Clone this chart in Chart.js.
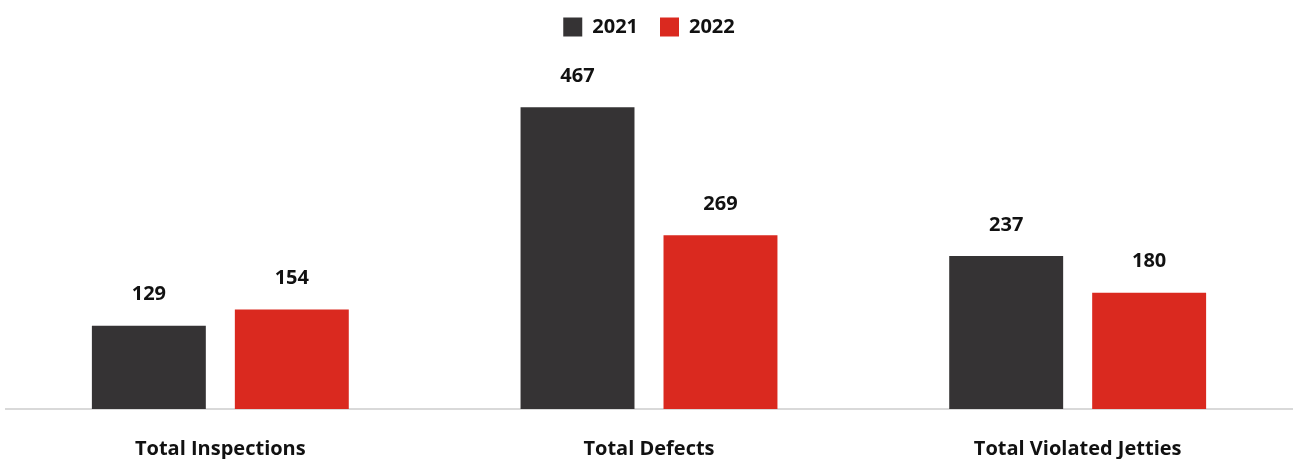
<!DOCTYPE html>
<html lang="en">
<head>
  <meta charset="UTF-8">
  <title>Inspections and Defects 2021 vs 2022</title>
  <script src="https://cdn.jsdelivr.net/npm/chart.js"></script>
  <style>
    html, body {
      margin: 0;
      padding: 0;
      background: #fff;
    }
    #wrap {
      width: 1297px;
      height: 461px;
    }
  </style>
</head>
<body>
  <div id="wrap">
    <canvas id="inspChart" width="1297" height="461"></canvas>
  </div>

  <script>
    const categories = ['Total Inspections', 'Total Defects', 'Total Violated Jetties'];
    const seriesNames = ['2021', '2022'];
    const values2021 = [129, 467, 237];
    const values2022 = [154, 269, 180];

    const colors = ['#353334', '#da291f'];

    // legend gets a fixed height so the plot starts lower
    const legendHeight = {
      id: 'legendHeight',
      beforeInit(chart) {
        const fit = chart.legend.fit;
        chart.legend.fit = function () {
          fit.call(this);
          this.height = 91;
        };
      }
    };

    // draws the number above each bar
    const valueLabels = {
      id: 'valueLabels',
      afterDatasetsDraw(chart) {
        const ctx = chart.ctx;
        ctx.save();
        ctx.font = 'bold 20px "Open Sans", sans-serif';
        ctx.fillStyle = '#111';
        ctx.textAlign = 'center';
        ctx.textBaseline = 'bottom';
        chart.data.datasets.forEach((ds, i) => {
          chart.getDatasetMeta(i).data.forEach((bar, j) => {
            ctx.fillText(ds.data[j], bar.x, bar.y - 21);
          });
        });
        ctx.restore();
      }
    };

    new Chart(document.getElementById('inspChart'), {
      type: 'bar',
      data: {
        labels: categories,
        datasets: [
          { label: seriesNames[0], data: values2021, backgroundColor: colors[0] },
          { label: seriesNames[1], data: values2022, backgroundColor: colors[1] }
        ]
      },
      options: {
        responsive: false,
        animation: false,
        categoryPercentage: 0.667,
        barPercentage: 0.797,
        layout: { padding: { left: 6, right: 5, top: -5, bottom: 2 } },
        scales: {
          x: {
            grid: { display: false, drawTicks: false },
            border: { color: '#d9d9d9', width: 2 },
            afterFit(scale) { scale.height = 50; },
            ticks: {
              color: '#111',
              padding: 28,
              font: { family: '"Open Sans", sans-serif', size: 20, weight: 'bold' }
            }
          },
          y: {
            display: false,
            min: 0,
            max: 500
          }
        },
        plugins: {
          legend: {
            position: 'top',
            labels: {
              color: '#111',
              boxWidth: 19,
              boxHeight: 19,
              padding: 22,
              font: { family: '"Open Sans", sans-serif', size: 20, weight: 'bold' }
            }
          },
          tooltip: { enabled: false }
        }
      },
      plugins: [legendHeight, valueLabels]
    });
  </script>
</body>
</html>
